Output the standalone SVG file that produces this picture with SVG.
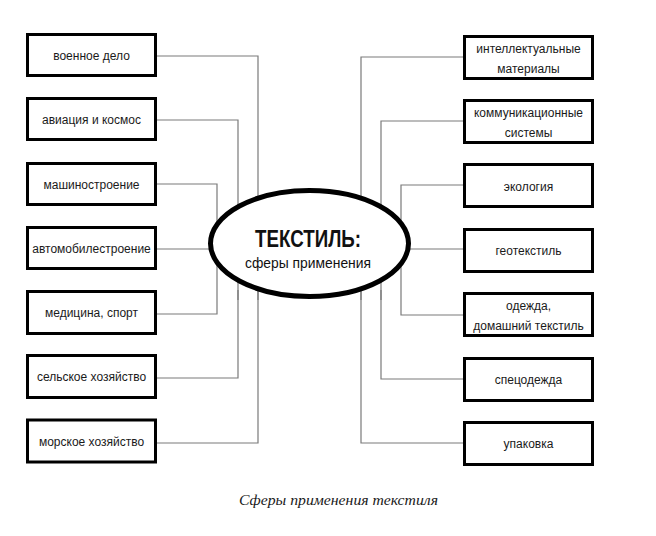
<svg xmlns="http://www.w3.org/2000/svg" width="656" height="536" viewBox="0 0 656 536">
<style>
.box{fill:#fff;stroke:#000;stroke-width:3}
.t{font-family:"Liberation Sans",Arial,sans-serif;font-size:12px;fill:#1a1a1a;text-anchor:middle}
.c{fill:none;stroke:#7a7a7a;stroke-width:1.2}
</style>
<rect width="656" height="536" fill="#fff"/>
<g id="connectors">
<path class="c" d="M157 56H258V300"/>
<path class="c" d="M157 120H238V300"/>
<path class="c" d="M157 184H217V314H157"/>
<path class="c" d="M157 249H260"/>
<path class="c" d="M238 290V378H157"/>
<path class="c" d="M258 290V443H157"/>
<path class="c" d="M463 57H361V300"/>
<path class="c" d="M463 121H381V300"/>
<path class="c" d="M463 185H401V315H463"/>
<path class="c" d="M463 249H360"/>
<path class="c" d="M381 290V379H463"/>
<path class="c" d="M361 290V443H463"/>
</g>
<g id="center">
<ellipse cx="309.5" cy="243.5" rx="99" ry="53" fill="#fff" stroke="#000" stroke-width="5"/>
<text x="308" y="247" font-family="'Liberation Sans',Arial,sans-serif" font-size="23" font-weight="bold" fill="#111" text-anchor="middle" textLength="106" lengthAdjust="spacingAndGlyphs">ТЕКСТИЛЬ:</text>
<text x="308" y="268" font-family="'Liberation Sans',Arial,sans-serif" font-size="15" fill="#111" text-anchor="middle" textLength="126" lengthAdjust="spacingAndGlyphs">сферы применения</text>
</g>
<g id="l1"><rect class="box" x="27.5" y="34.5" width="128" height="41"/><text class="t" x="91.5" y="60">военное дело</text></g>
<g id="l2"><rect class="box" x="27.5" y="98.5" width="128" height="41"/><text class="t" x="91.5" y="124">авиация и космос</text></g>
<g id="l3"><rect class="box" x="27.5" y="163.5" width="128" height="41"/><text class="t" x="91.5" y="189">машиностроение</text></g>
<g id="l4"><rect class="box" x="27.5" y="227.5" width="128" height="41"/><text class="t" x="91.5" y="253">автомобилестроение</text></g>
<g id="l5"><rect class="box" x="27.5" y="291.5" width="128" height="42"/><text class="t" x="91.5" y="317">медицина, спорт</text></g>
<g id="l6"><rect class="box" x="27.5" y="355.5" width="128" height="42"/><text class="t" x="91.5" y="381">сельское хозяйство</text></g>
<g id="l7"><rect class="box" x="27.5" y="420" width="128" height="42"/><text class="t" x="91.5" y="446">морское хозяйство</text></g>
<g id="r1"><rect class="box" x="464.5" y="36.5" width="128" height="42"/><text class="t" x="528.5" y="53">интеллектуальные</text><text class="t" x="528.5" y="73">материалы</text></g>
<g id="r2"><rect class="box" x="464.5" y="100.5" width="128" height="42"/><text class="t" x="528.5" y="117">коммуникационные</text><text class="t" x="528.5" y="137">системы</text></g>
<g id="r3"><rect class="box" x="464.5" y="164.5" width="128" height="42"/><text class="t" x="528.5" y="191">экология</text></g>
<g id="r4"><rect class="box" x="464.5" y="229.5" width="128" height="42"/><text class="t" x="528.5" y="255">геотекстиль</text></g>
<g id="r5"><rect class="box" x="464.5" y="293.5" width="128" height="42"/><text class="t" x="528.5" y="310">одежда,</text><text class="t" x="528.5" y="330">домашний текстиль</text></g>
<g id="r6"><rect class="box" x="464.5" y="358.5" width="128" height="42"/><text class="t" x="528.5" y="384">спецодежда</text></g>
<g id="r7"><rect class="box" x="464.5" y="422.5" width="128" height="42"/><text class="t" x="528.5" y="448">упаковка</text></g>
<text x="338.5" y="505" font-family="'Liberation Serif','Times New Roman',serif" font-size="15.5" font-style="italic" fill="#1a1a1a" text-anchor="middle" textLength="199" lengthAdjust="spacingAndGlyphs">Сферы применения текстиля</text>
</svg>
